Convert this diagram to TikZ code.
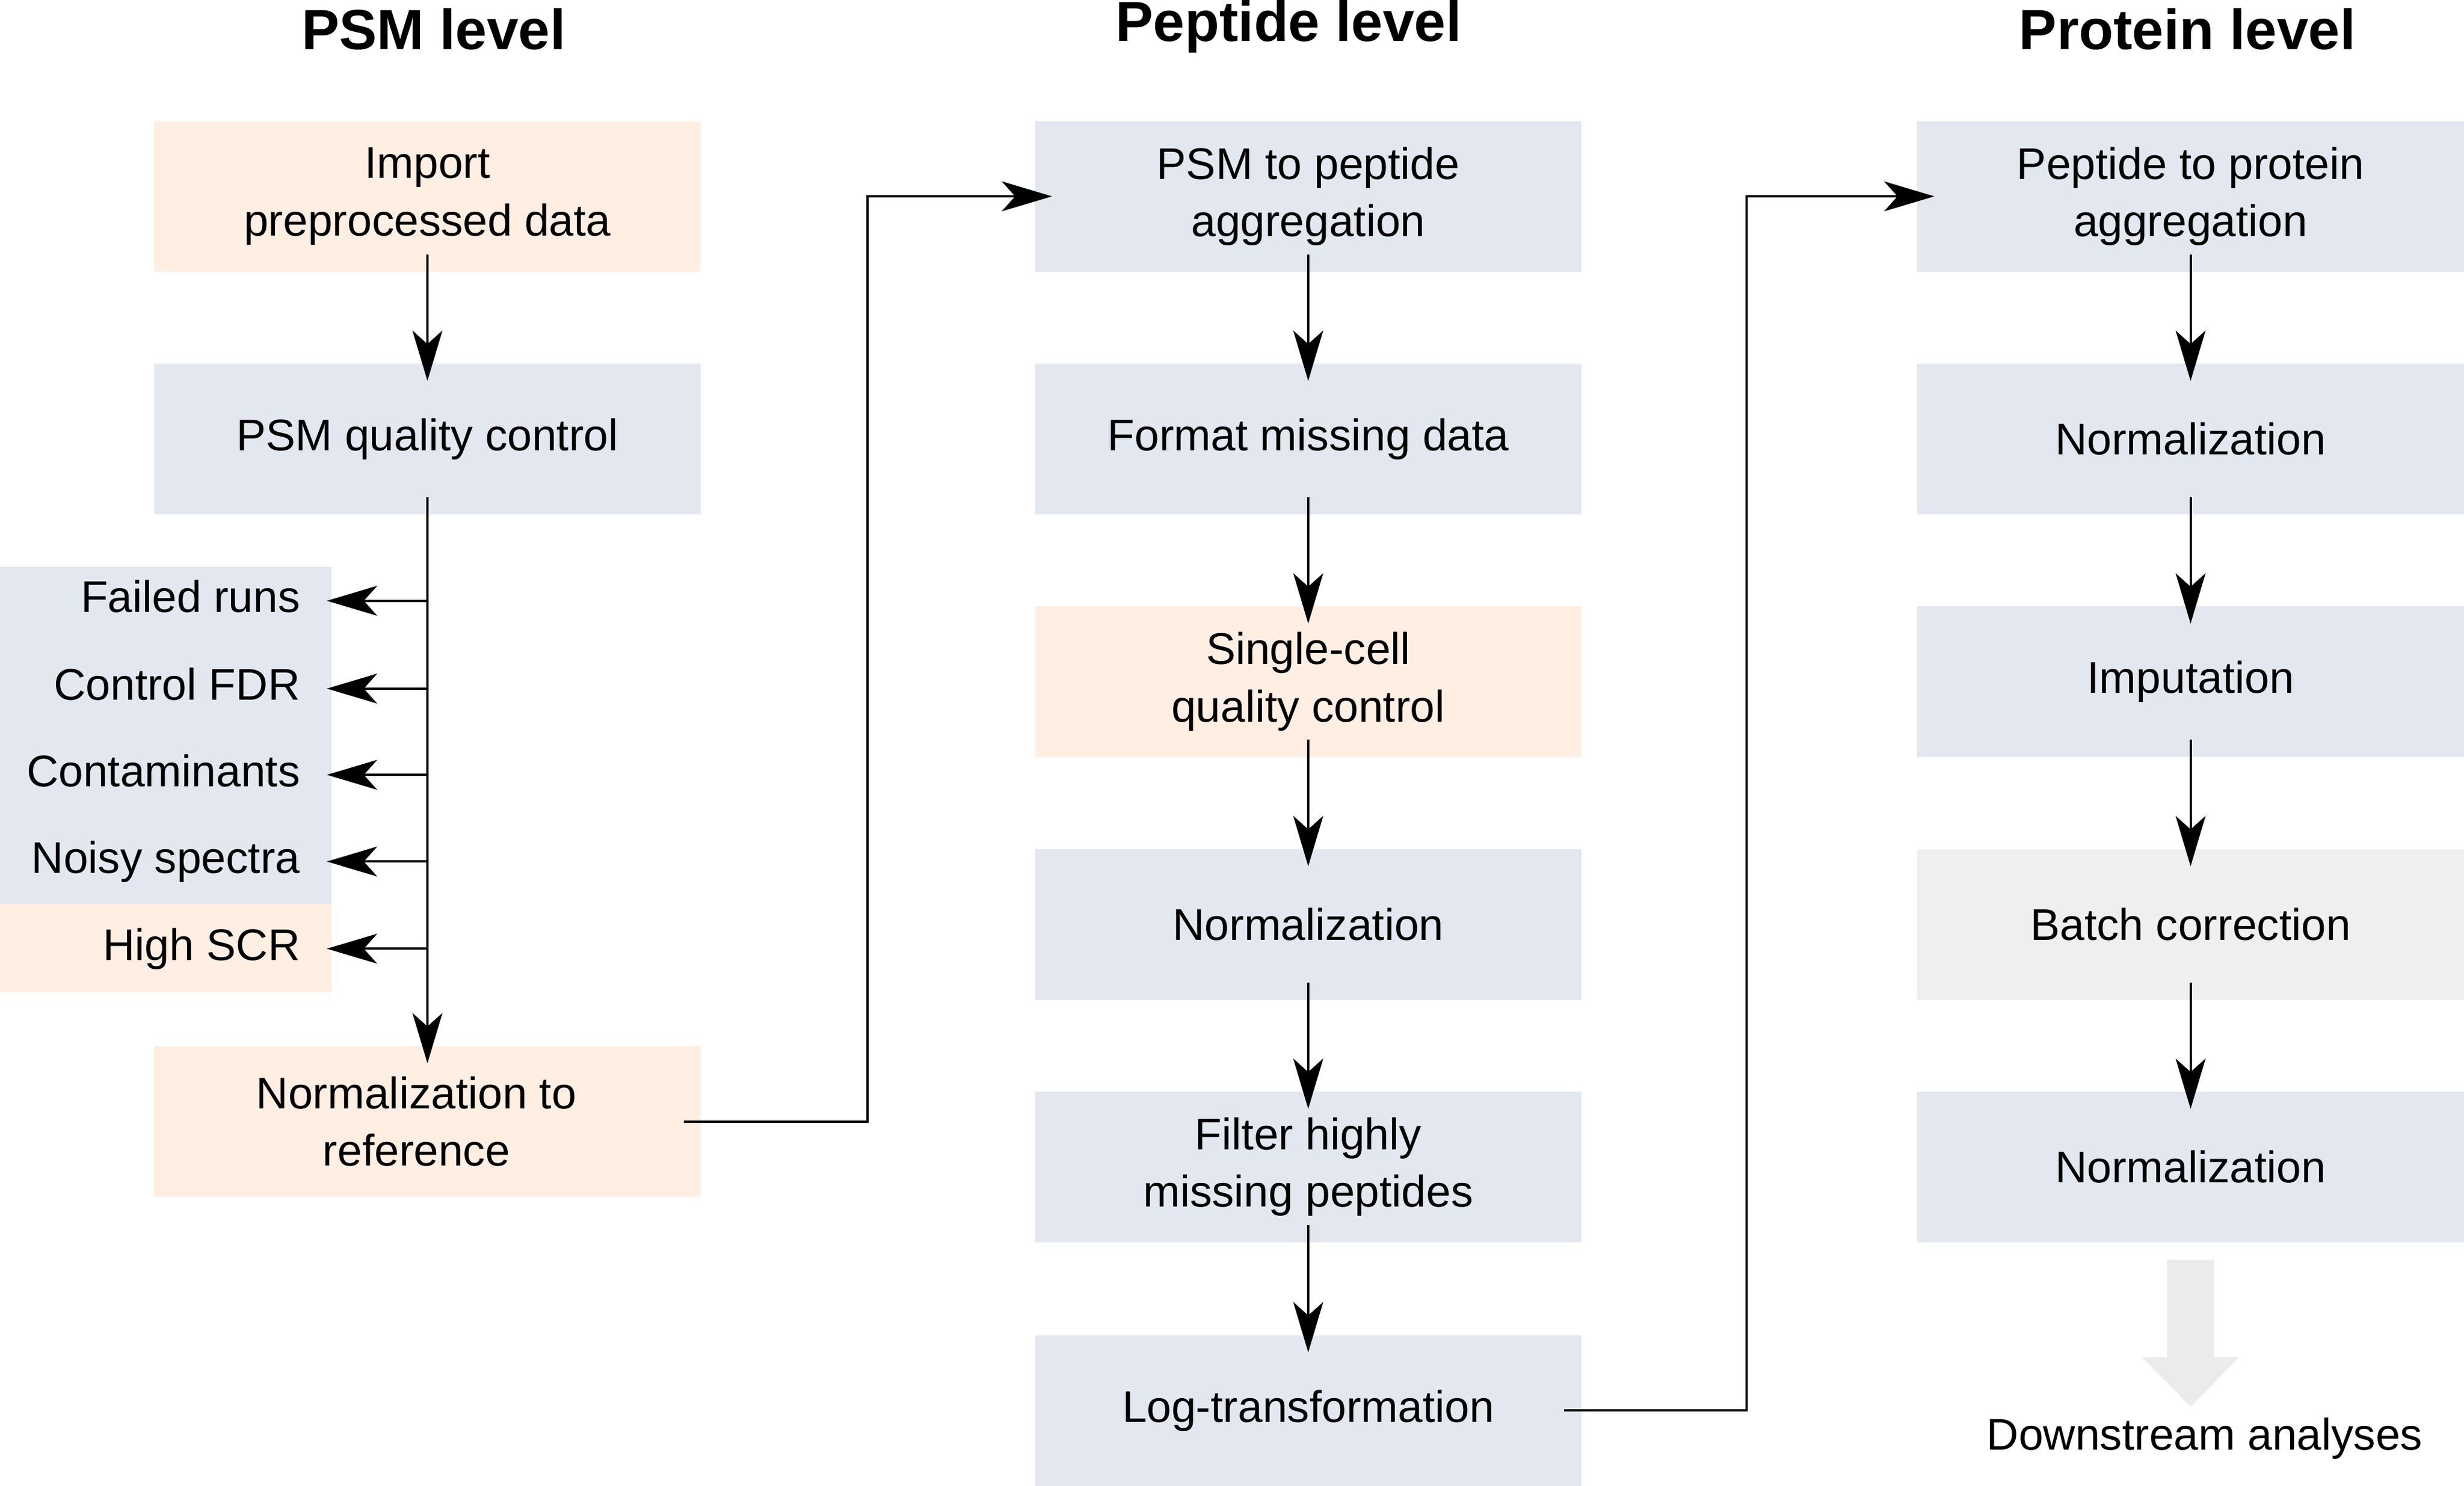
\documentclass[tikz,border=0pt]{standalone}
\usepackage{fontspec}
\setmainfont{Liberation Sans}
\usetikzlibrary{arrows.meta}
\definecolor{bblue}{HTML}{E3E8F0}
\definecolor{borange}{HTML}{FFEFE3}
\definecolor{bgray}{HTML}{EFEFEF}
\definecolor{agray}{HTML}{EBEBEB}
\begin{document}
\begin{tikzpicture}[x=1pt,y=-1pt,
  every node/.style={font=\fontsize{28.2}{36.5}\selectfont},
  box/.style={rectangle, inner sep=0pt, outer sep=-11pt, minimum height=96pt, minimum width=348pt, align=center},
  blue/.style={box, fill=bblue},
  orange/.style={box, fill=borange},
  grey/.style={box, fill=bgray},
  arr/.style={line width=1.5pt, -{Stealth[length=32pt,width=19pt,inset=8.5pt]}},
  title/.style={font=\fontsize{36}{43}\selectfont\bfseries, anchor=base, inner sep=0pt},
  lbl/.style={anchor=east, inner sep=0pt, outer xsep=17pt, text height=20.6pt, text depth=5.9pt}
]
\useasboundingbox (0,0) rectangle (1568,946);

% titles
\node[title] (t1) at (276,31.6) {PSM level};
\node[title] (t2) at (820,26.1) {Peptide level};
\node[title] (t3) at (1392,31.6) {Protein level};

% left side backgrounds
\fill[bblue] (0,361) rectangle (211,575.7);
\fill[borange] (0,575.7) rectangle (211,632);

% column 1
\node[orange] (imp) at (272,125) {Import\\preprocessed data};
\node[blue] (qc) at (272,279.5) {PSM quality control};
\node[orange] (nr) at (272,714) {};
\node[inner sep=0pt, align=center] (nrt) at (265,714) {Normalization to\\reference};

\node[lbl] (fr) at (208,382.5) {Failed runs};
\node[lbl] (cf) at (208,438.4) {Control FDR};
\node[lbl] (ct) at (208,493.3) {Contaminants};
\node[lbl] (ns) at (208,548.5) {Noisy spectra};
\node[lbl] (hs) at (208,604) {High SCR};

% column 2
\node[blue] (pp) at (832.5,125) {PSM to peptide\\aggregation};
\node[blue] (fmd) at (832.5,279.5) {Format missing data};
\node[orange] (scqc) at (832.5,434) {Single-cell\\quality control};
\node[blue] (n2) at (832.5,588.5) {Normalization};
\node[blue] (fh) at (832.5,743) {Filter highly\\missing peptides};
\node[blue] (lt) at (832.5,898) {Log-transformation};

% column 3
\node[blue] (ppr) at (1394,125) {Peptide to protein\\aggregation};
\node[blue] (n3a) at (1394,279.5) {Normalization};
\node[blue] (imp3) at (1394,434) {Imputation};
\node[grey] (bc) at (1394,588.5) {Batch correction};
\node[blue] (n3b) at (1394,743) {Normalization};

% connectors column 1
\draw[arr] (imp.south) -- (qc.north);
\draw[arr] (qc.south) -- (nr.north);
\foreach \n in {fr,cf,ct,ns,hs} \draw[arr] (qc.south |- \n.east) -- (\n.east);
\draw[arr] (nr.east) -- ++(117,0) |- (pp.west);

% connectors column 2
\draw[arr] (pp.south) -- (fmd.north);
\draw[arr] (fmd.south) -- (scqc.north);
\draw[arr] (scqc.south) -- (n2.north);
\draw[arr] (n2.south) -- (fh.north);
\draw[arr] (fh.south) -- (lt.north);
\draw[arr] (lt.east) -- ++(116,0) |- (ppr.west);

% connectors column 3
\draw[arr] (ppr.south) -- (n3a.north);
\draw[arr] (n3a.south) -- (imp3.north);
\draw[arr] (imp3.south) -- (bc.north);
\draw[arr] (bc.south) -- (n3b.north);

% downstream
\fill[agray] (1379,802) -- (1409,802) -- (1409,864) -- (1425,864) -- (1394,895.5) -- (1363,864) -- (1379,864) -- cycle;
\node[anchor=base, inner sep=0pt] (ds) at (1403,923) {Downstream analyses};
\end{tikzpicture}
\end{document}
